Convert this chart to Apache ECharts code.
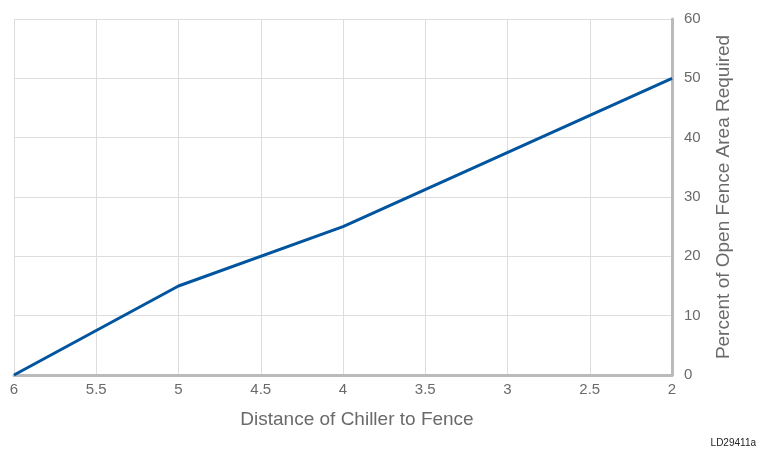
<!DOCTYPE html>
<html>
<head>
<meta charset="utf-8">
<script src="https://cdn.jsdelivr.net/npm/echarts@6/dist/echarts.min.js"></script>
<style>
  html, body { margin: 0; padding: 0; background: #fff; }
  #chart { width: 764px; height: 454px; }
</style>
</head>
<body>
<div id="chart"></div>
<script>
// 数据
var distance = [6, 5, 4, 2]
var percentOpen = [0, 15, 25, 50]

var points = distance.map(function (d, i) { return [d, percentOpen[i]] })

var option = {
  animation: false,
  textStyle: { fontFamily: 'Liberation Sans, Arial, sans-serif' },
  grid: { left: 14, right: 92, top: 19, bottom: 79 },
  graphic: [{
    type: 'text',
    right: 8,
    bottom: 6,
    style: { text: 'LD29411a', fontSize: 10, fill: '#222', fontFamily: 'Liberation Sans, Arial, sans-serif' }
  }],
  xAxis: {
    type: 'value',
    inverse: true,
    min: 2,
    max: 6,
    interval: 0.5,
    name: 'Distance of Chiller to Fence',
    nameLocation: 'middle',
    nameGap: 35,
    // 标题略往右
    nameTextStyle: { color: '#6a6a6a', fontSize: 19, padding: [0, 0, 0, 28] },
    axisLine: { show: true, lineStyle: { color: '#bbb', width: 3 } },
    axisTick: { show: false },
    axisLabel: { color: '#6a6a6a', fontSize: 15, margin: 7 },
    splitLine: { show: true, lineStyle: { color: '#ddd', width: 1 } }
  },
  yAxis: {
    type: 'value',
    position: 'right',
    min: 0,
    max: 60,
    interval: 10,
    name: 'Percent of Open Fence Area Required',
    nameLocation: 'middle',
    nameRotate: 90,
    nameGap: 42,
    nameTextStyle: { color: '#6a6a6a', fontSize: 19 },
    axisLine: { show: true, lineStyle: { color: '#bbb', width: 3 } },
    axisTick: { show: false },
    axisLabel: { color: '#6a6a6a', fontSize: 15, margin: 12 },
    splitLine: { show: true, lineStyle: { color: '#ddd', width: 1 } }
  },
  series: [{
    type: 'line',
    data: points,
    symbol: 'none',
    lineStyle: { color: '#00559e', width: 3 }
  }]
}
var myChart = echarts.init(document.getElementById('chart'))
myChart.setOption(option)
</script>
</body>
</html>
